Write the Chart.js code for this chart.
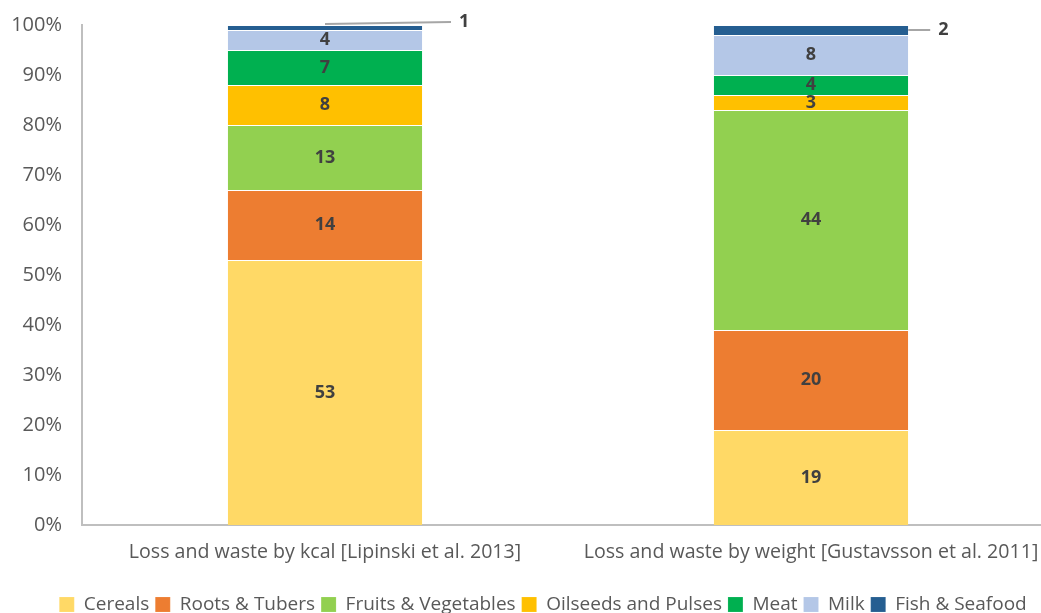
<!DOCTYPE html>
<html>
<head>
<meta charset="utf-8">
<script src="https://cdn.jsdelivr.net/npm/chart.js@4/dist/chart.umd.min.js"></script>
<style>
  html, body { margin: 0; padding: 0; background: #fff; overflow: hidden; }
  #wrap { width: 1054px; height: 613px; position: relative; }
</style>
</head>
<body>
<div id="wrap"><canvas id="c"></canvas></div>
<script>
// Share of food loss and waste by commodity group (percent of total)
const categories = [
  'Loss and waste by kcal [Lipinski et al. 2013]',
  'Loss and waste by weight [Gustavsson et al. 2011]'
];
const seriesNames = ['Cereals', 'Roots & Tubers', 'Fruits & Vegetables', 'Oilseeds and Pulses', 'Meat', 'Milk', 'Fish & Seafood'];
const cereals      = [53, 19];
const rootsTubers  = [14, 20];
const fruitsVeg    = [13, 44];
const oilseeds     = [8, 3];
const meat         = [7, 4];
const milk         = [4, 8];
const fishSeafood  = [1, 2];
const yTicks = [0, 10, 20, 30, 40, 50, 60, 70, 80, 90, 100];

const seriesValues = [cereals, rootsTubers, fruitsVeg, oilseeds, meat, milk, fishSeafood];
const seriesColors = ['#FFD966', '#ED7D31', '#92D050', '#FFC000', '#00B050', '#B4C7E7', '#255E91'];

const FONT = '"Open Sans", "Liberation Sans", sans-serif';

// Values inside each segment; the thin top segment gets a callout line instead
const segmentLabels = {
  id: 'segmentLabels',
  afterDatasetsDraw(chart, args, opts) {
    const ctx = chart.ctx;
    ctx.save();
    ctx.font = 'bold 18px ' + FONT;
    ctx.fillStyle = '#404040';
    ctx.textAlign = 'center';
    ctx.textBaseline = 'middle';
    const last = chart.data.datasets.length - 1;
    chart.data.datasets.forEach((ds, di) => {
      const meta = chart.getDatasetMeta(di);
      meta.data.forEach((bar, i) => {
        const v = ds.data[i];
        if (di === last) {
          const c = opts.callouts[i];
          const yMid = (bar.y + bar.base) / 2;
          const x0 = c.fromCenter ? bar.x : bar.x + bar.width / 2;
          const y0 = c.fromCenter ? bar.y - 1 : yMid;
          const x1 = x0 + c.dx;
          const y1 = y0 + c.dy;
          ctx.strokeStyle = '#A6A6A6';
          ctx.lineWidth = 2;
          ctx.beginPath();
          ctx.moveTo(x0, y0);
          ctx.lineTo(x1, y1);
          ctx.stroke();
          ctx.textAlign = 'left';
          ctx.fillText(String(v), x1 + 8, y1);
          ctx.textAlign = 'center';
        } else {
          ctx.fillText(String(v), bar.x, (bar.y + bar.base) / 2);
        }
      });
    });
    ctx.restore();
  }
};

// Fixed-height legend band at the foot, nudged toward the right
const legendBand = {
  id: 'legendBand',
  beforeInit(chart) {
    const fit = chart.legend.fit;
    chart.legend.fit = function () {
      fit.call(this);
      this.height = 24;
    };
  },
  afterLayout(chart) {
    chart.legend.left += 32;
  }
};

new Chart(document.getElementById('c'), {
  type: 'bar',
  data: {
    labels: categories,
    datasets: seriesNames.map((name, k) => ({
      label: name,
      data: seriesValues[k],
      backgroundColor: seriesColors[k],
      borderColor: 'rgba(255,255,255,0.5)',
      borderWidth: { top: 1, bottom: 0, left: 0, right: 0 },
      borderSkipped: false,
      barPercentage: 0.4,
      categoryPercentage: 1.0
    }))
  },
  options: {
    responsive: true,
    maintainAspectRatio: false,
    animation: false,
    layout: { padding: { top: 25, left: 0, right: 0, bottom: 0 } },
    scales: {
      x: {
        stacked: true,
        grid: { display: false, drawTicks: false },
        border: { display: true, color: '#BFBFBF', width: 2 },
        ticks: { color: '#595959', font: { family: FONT, size: 19.6 }, padding: 16, maxRotation: 0 },
        afterFit(s) { s.height = 64; s.paddingLeft = 0; s.paddingRight = 0; }
      },
      y: {
        stacked: true,
        min: 0,
        max: 100,
        grid: { display: false, drawTicks: false },
        border: { display: true, color: '#BFBFBF', width: 2 },
        afterBuildTicks(s) { s.ticks = yTicks.map(v => ({ value: v })); },
        ticks: {
          color: '#595959',
          font: { family: FONT, size: 20 },
          padding: 20,
          callback: v => v + '%'
        },
        afterFit(s) { s.width = 82; s.paddingTop = 0; s.paddingBottom = 0; }
      }
    },
    plugins: {
      legend: {
        position: 'bottom',
        labels: {
          color: '#595959',
          font: { family: FONT, size: 19 },
          boxWidth: 15,
          boxHeight: 15,
          padding: 6,
          useBorderRadius: false
        }
      },
      tooltip: { enabled: false },
      segmentLabels: {
        callouts: [
          { fromCenter: true, dx: 126, dy: -2 },
          { fromCenter: false, dx: 22, dy: 0 }
        ]
      }
    }
  },
  plugins: [segmentLabels, legendBand]
});
</script>
</body>
</html>
